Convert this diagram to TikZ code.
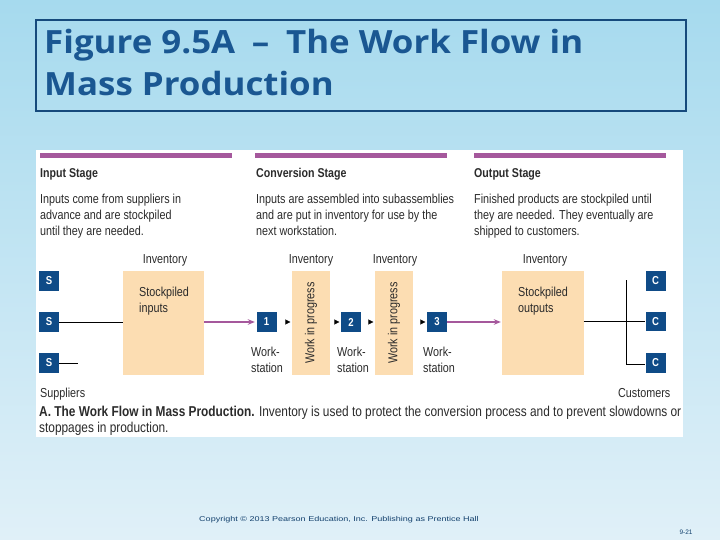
\documentclass[tikz,border=0pt]{standalone}
\usepackage{fontspec}
\setmainfont{Liberation Sans}
\newfontfamily\pf[FakeStretch=0.83]{Liberation Sans}
\newfontfamily\tf{Open Sans}
\usetikzlibrary{arrows.meta}
\definecolor{bgtop}{HTML}{A6DAEE}
\definecolor{bgbot}{HTML}{E0F0F8}
\definecolor{titleblue}{HTML}{1A5792}
\definecolor{boxblue}{HTML}{0F4B87}
\definecolor{barpurple}{HTML}{A5589C}
\definecolor{peach}{HTML}{FCDDB2}
\definecolor{txt}{HTML}{2B2B2B}
\begin{document}
\begin{tikzpicture}[x=1pt,y=-1pt,
  lbl/.style={font=\pf\fontsize{13}{15}\selectfont, text=txt, inner sep=0pt},
  head/.style={font=\pf\bfseries\fontsize{12.8}{15}\selectfont, text=txt, inner sep=0pt},
  captxt/.style={font=\pf\fontsize{14.3}{16}\selectfont, text=txt, inner sep=0pt},
  ttl/.style={inner sep=0pt, text=titleblue, xscale=1.09, font=\tf\bfseries\fontsize{32}{36}\selectfont},
  sbox/.style={fill=boxblue, text=white, font=\pf\bfseries\fontsize{11.5}{12}\selectfont, minimum width=20pt, minimum height=19.5pt, inner sep=0pt},
  pbox/.style={fill=peach, inner sep=0pt},
  bar/.style={fill=barpurple},
  flow/.style={draw=barpurple, line width=1.4pt, -{Stealth[length=7pt,width=5.5pt]}},
  plain/.style={draw=black, line width=0.8pt},
  tip/.style={draw=white, line width=0.1pt, -{Triangle[length=5pt,width=5pt,color=black]}},
  foot/.style={anchor=base, inner sep=0pt, text=titleblue!75!black}
]
\useasboundingbox (0,0) rectangle (720,540);
\shade[top color=bgtop, bottom color=bgbot] (0,0) rectangle (720,540);
% title
\draw[draw=titleblue!85!black, line width=1.8pt] (36,20) rectangle (686,111);
\node[ttl, anchor=base west] (t1) at (44,54) {Figure 9.5A\hspace{7pt} – \hspace{7pt}The Work Flow in};
\node[ttl, anchor=base west] (t2) at (44,96) {Mass Production};
% panel
\fill[white] (36,150) rectangle (683,437);
\fill[bar] (40,153) rectangle (232,158);
\fill[bar] (255,153) rectangle (447,158);
\fill[bar] (474,153) rectangle (666,158);
% headings
\node[head, anchor=base west] (h1) at (40,178) {Input Stage};
\node[head, anchor=base west] (h2) at (256,178) {Conversion Stage};
\node[head, anchor=base west] (h3) at (474,178) {Output Stage};
% descriptions
\node[lbl, anchor=base west] (d11) at (40,204) {Inputs come from suppliers in};
\node[lbl, anchor=base west] (d12) at (40,220) {advance and are stockpiled};
\node[lbl, anchor=base west] (d13) at (40,236) {until they are needed.};
\node[lbl, anchor=base west] (d21) at (256,204) {Inputs are assembled into subassemblies};
\node[lbl, anchor=base west] (d22) at (256,220) {and are put in inventory for use by the};
\node[lbl, anchor=base west] (d23) at (256,236) {next workstation.};
\node[lbl, anchor=base west] (d31) at (474,204) {Finished products are stockpiled until};
\node[lbl, anchor=base west] (d32) at (474,220) {they are needed. They eventually are};
\node[lbl, anchor=base west] (d33) at (474,236) {shipped to customers.};
% inventory labels
\node[lbl, anchor=base] (i1) at (165,263) {Inventory};
\node[lbl, anchor=base] (i2) at (311,263) {Inventory};
\node[lbl, anchor=base] (i3) at (395,263) {Inventory};
\node[lbl, anchor=base] (i4) at (545,263) {Inventory};
% peach boxes
\node[pbox, minimum width=81pt, minimum height=104pt] (inbox) at (163.5,323) {};
\node[pbox, minimum width=38pt, minimum height=104pt] (w1) at (311,323) {};
\node[pbox, minimum width=38pt, minimum height=104pt] (w2) at (394,323) {};
\node[pbox, minimum width=82pt, minimum height=104pt] (outbox) at (542.5,323) {};
\node[lbl, anchor=base west] (inl1) at (139,296) {Stockpiled};
\node[lbl, anchor=base west] (inl2) at (139,312) {inputs};
\node[lbl, anchor=base west] (outl1) at (518,296) {Stockpiled};
\node[lbl, anchor=base west] (outl2) at (518,312) {outputs};
\node[lbl, rotate=90] (wl1) at (w1.center) {Work in progress};
\node[lbl, rotate=90] (wl2) at (w2.center) {Work in progress};
% suppliers and customers
\node[sbox] (s1) at (49,281) {S};
\node[sbox] (s2) at (49,322) {S};
\node[sbox] (s3) at (49,363) {S};
\node[sbox] (c1) at (655.5,281) {C};
\node[sbox] (c2) at (655.5,321.5) {C};
\node[sbox] (c3) at (655.5,363) {C};
% workstations
\node[sbox] (b1) at (266.5,322) {1};
\node[sbox] (b2) at (351,322) {2};
\node[sbox] (b3) at (437,322) {3};
\node[lbl, anchor=base west] (ws1a) at (251,356) {Work-};
\node[lbl, anchor=base west] (ws1b) at (251,372) {station};
\node[lbl, anchor=base west] (ws2a) at (337,356) {Work-};
\node[lbl, anchor=base west] (ws2b) at (337,372) {station};
\node[lbl, anchor=base west] (ws3a) at (423,356) {Work-};
\node[lbl, anchor=base west] (ws3b) at (423,372) {station};
\node[lbl, anchor=base west] (sup) at (40,397) {Suppliers};
\node[lbl, anchor=base west] (cus) at (618,397) {Customers};
% connectors
\draw[plain] (s2.east) -- (s2.east -| inbox.west);
\coordinate (s3end) at (78,363);
\draw[plain] (s3.east) -- (s3end);
\draw[flow, shorten >=1.5pt] (inbox.east |- b1.west) -- (b1.west);
\draw[tip, shorten <=7pt, shorten >=1.5pt] (b1.east) -- (b1.east -| w1.west);
\draw[tip, shorten <=2pt, shorten >=1.5pt] (w1.east |- b2.west) -- (b2.west);
\draw[tip, shorten <=7pt, shorten >=1.5pt] (b2.east) -- (b2.east -| w2.west);
\draw[tip, shorten <=6pt, shorten >=1.5pt] (w2.east |- b3.west) -- (b3.west);
\draw[flow, shorten >=0.5pt] (b3.east) -- (b3.east -| outbox.west);
\draw[plain] (outbox.east |- c2.west) -- (c2.west);
\coordinate (vtop) at (626.7,280);
\coordinate (vbot) at (626.7,364);
\draw[plain] (vtop) -- (vbot) -- (vbot -| c3.west);
% caption
\node[captxt, anchor=base west] (cap1) at (39,416) {{\bfseries A. The Work Flow in Mass Production.} Inventory is used to protect the conversion process and to prevent slowdowns or};
\node[captxt, anchor=base west] (cap2) at (39,432) {stoppages in production.};
% footer
\node[foot, xscale=1.29, font=\fontsize{7}{8}\selectfont] (copy) at (339,521.5) {Copyright © 2013 Pearson Education, Inc. Publishing as Prentice Hall};
\node[foot, font=\fontsize{6.5}{8}\selectfont] (pg) at (686,534.5) {9-21};
\end{tikzpicture}
\end{document}
